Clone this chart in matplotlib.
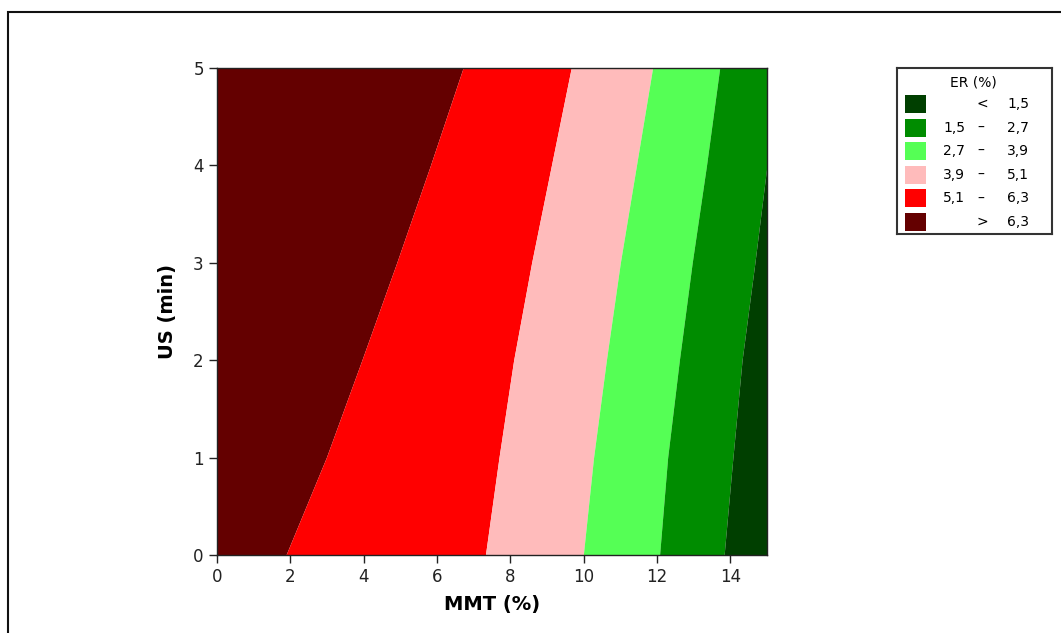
import matplotlib
matplotlib.use("Agg")
import matplotlib.pyplot as plt
from matplotlib.patches import Rectangle

# US (min) values at which contour boundaries were read
us_values = [0, 1, 2, 3, 4, 5]
# MMT (%) position of each ER contour boundary at those US values
boundary_6_3 = [1.88, 2.98, 3.95, 4.90, 5.82, 6.71]
boundary_5_1 = [7.32, 7.69, 8.09, 8.58, 9.12, 9.66]
boundary_3_9 = [9.99, 10.27, 10.62, 11.00, 11.44, 11.88]
boundary_2_7 = [12.07, 12.29, 12.61, 12.96, 13.35, 13.71]
boundary_1_5 = [13.83, 14.07, 14.32, 14.67, 15.00, 15.40]

legend_left = ["<", "1,5", "2,7", "3,9", "5,1", ">"]
legend_right = ["1,5", "2,7", "3,9", "5,1", "6,3", "6,3"]
band_colors = ["#003F00", "#008C00", "#55FF55", "#FFBBBB", "#FF0000", "#640000"]

x_ticks = [0, 2, 4, 6, 8, 10, 12, 14]
y_ticks = [0, 1, 2, 3, 4, 5]

W, H = 1061, 633
fig = plt.figure(figsize=(W / 100, H / 100), dpi=100)
plt.rcParams['font.family'] = ['DejaVu Sans']

ax = fig.add_axes([217 / W, 1 - 555 / H, 550 / W, 487 / H])
x_min, x_max = 0, 15
y_min, y_max = 0, 5

left_edge = [x_min] * len(us_values)
right_edge = [x_max + 1] * len(us_values)
bounds = [left_edge, boundary_6_3, boundary_5_1, boundary_3_9, boundary_2_7, boundary_1_5, right_edge]
# bands from left (>6.3) to right (<1.5)
colors_lr = band_colors[::-1]
for i in range(6):
    ax.fill_betweenx(us_values, bounds[i], bounds[i + 1], color=colors_lr[i], lw=0)

ax.set_xlim(x_min, x_max)
ax.set_ylim(y_min, y_max)
ax.set_xticks(x_ticks)
ax.set_yticks(y_ticks)
ax.tick_params(direction="out", length=5.5, width=1, labelsize=12, colors="#222222", pad=4)
for s in ax.spines.values():
    s.set_color("#222222")
    s.set_linewidth(1.0)
ax.set_xlabel("MMT (%)", fontsize=14, fontweight="bold", labelpad=6)
ax.set_ylabel("US (min)", fontsize=14, fontweight="bold", labelpad=12)

# legend
lax = fig.add_axes([897 / W, 1 - 234 / H, 155 / W, 166 / H])
lax.set_xlim(0, 155)
lax.set_ylim(166, 0)
lax.set_xticks([])
lax.set_yticks([])
for s in lax.spines.values():
    s.set_color("#333333")
    s.set_linewidth(1.5)
lax.text(76, 14, "ER (%)", ha="center", va="center", fontsize=10)
row_y0 = 36
row_dy = 23.6
for i in range(6):
    yy = row_y0 + i * row_dy
    lax.add_patch(Rectangle((8, yy - 9), 21, 18, facecolor=band_colors[i], edgecolor="none"))
    if legend_left[i] in ("<", ">"):
        lax.text(85, yy, legend_left[i], ha="center", va="center", fontsize=10)
    else:
        lax.text(68, yy, legend_left[i], ha="right", va="center", fontsize=10)
        lax.text(84, yy, "\u2013", ha="center", va="center", fontsize=10)
    lax.text(110, yy, legend_right[i], ha="left", va="center", fontsize=10)

# outer frame of figure (cut off at right and bottom)
fig.patches.append(Rectangle((8 / W, -0.2), 1.2, 1.2 - 12 / H, transform=fig.transFigure,
                             fill=False, edgecolor="#111111", lw=1.5, clip_on=False))

fig.savefig("out.png", dpi=100)
